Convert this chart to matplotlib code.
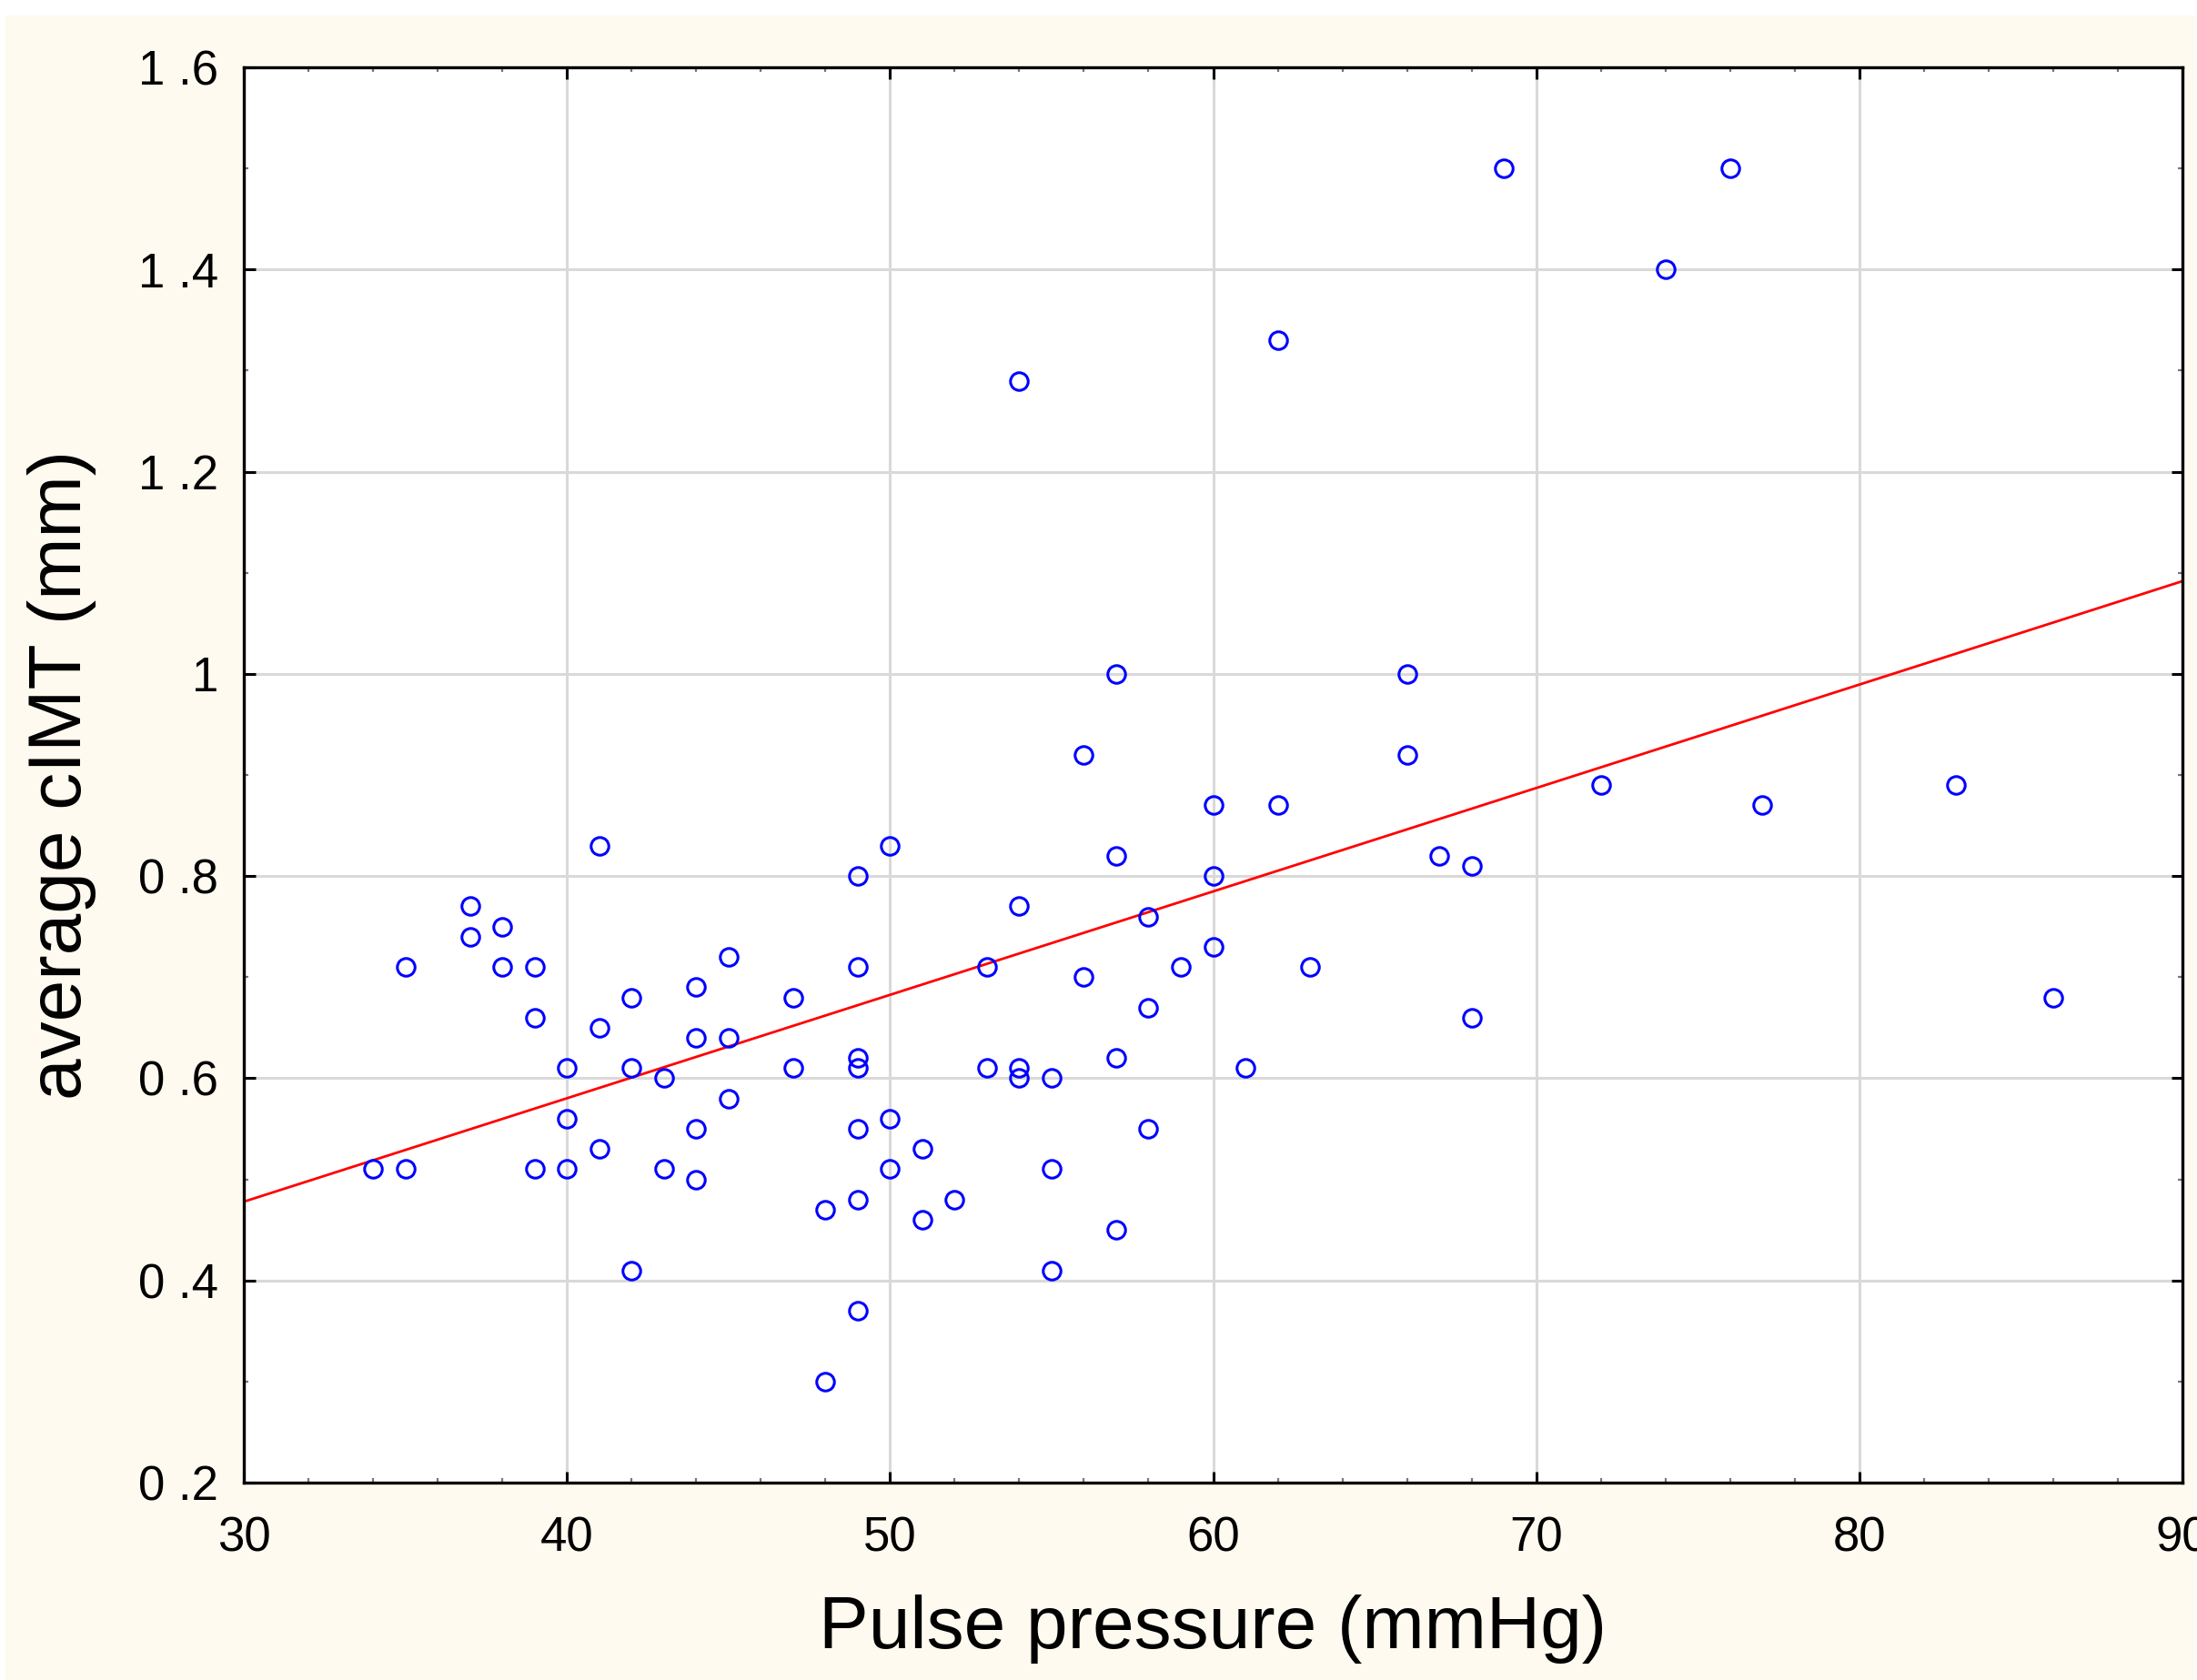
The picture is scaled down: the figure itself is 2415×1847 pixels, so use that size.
"""
Scatter of average cIMT against pulse pressure with a least-squares line.
"""

import matplotlib
matplotlib.use("Agg")
import matplotlib.pyplot as plt
import numpy as np
from matplotlib.patches import Rectangle
from matplotlib.ticker import FixedLocator, MultipleLocator

# Pulse pressure (mmHg), one entry per subject
pulse_pressure = [
    34, 35, 35, 37, 37, 38, 38, 39, 39, 39, 40, 40, 40, 41, 41, 41,
    42, 42, 42, 43, 43, 44, 44, 44, 44, 45, 45, 45, 47, 47, 48, 48,
    49, 49, 49, 49, 49, 49, 49, 50, 50, 50, 51, 51, 52, 53, 53,
    54, 54, 54, 54, 55, 55, 55, 56, 56, 57, 57, 57, 57, 58, 58, 58,
    59, 60, 60, 60, 61, 62, 62, 63, 66, 66, 67, 68, 68, 69, 72, 74,
    76, 77, 83, 86,
]

# Average carotid IMT (mm), same order as pulse_pressure
cimt = [
    0.51, 0.51, 0.71, 0.77, 0.74, 0.75, 0.71, 0.71, 0.66, 0.51, 0.61, 0.56, 0.51, 0.83, 0.65, 0.53,
    0.68, 0.61, 0.41, 0.60, 0.51, 0.69, 0.64, 0.55, 0.50, 0.72, 0.64, 0.58, 0.68, 0.61, 0.47, 0.30,
    0.80, 0.71, 0.62, 0.61, 0.55, 0.48, 0.37, 0.83, 0.56, 0.51, 0.53, 0.46, 0.48, 0.71, 0.61,
    1.29, 0.77, 0.61, 0.60, 0.60, 0.51, 0.41, 0.92, 0.70, 1.00, 0.82, 0.62, 0.45, 0.76, 0.67, 0.55,
    0.71, 0.87, 0.80, 0.73, 0.61, 1.33, 0.87, 0.71, 1.00, 0.92, 0.82, 0.81, 0.66, 1.50, 0.89, 1.40,
    1.50, 0.87, 0.89, 0.68,
]

# regression line as printed (intercept, slope)
fit_intercept = 0.171
fit_slope = 0.01023

x_ticks = [30, 40, 50, 60, 70, 80, 90]
y_ticks = [0.2, 0.4, 0.6, 0.8, 1.0, 1.2, 1.4, 1.6]
y_tick_labels = ["0 .2", "0 .4", "0 .6", "0 .8", "1", "1 .2", "1 .4", "1 .6"]

W, H = 2415, 1847
DPI = 100
FONT = "Liberation Sans"
CREAM = "#fffaf0"

fig = plt.figure(figsize=(W / DPI, H / DPI), dpi=DPI, facecolor="white")
fig.patches.append(
    Rectangle((6 / W, 0), (2413 - 6) / W, (H - 17) / H,
              transform=fig.transFigure, facecolor=CREAM, edgecolor="none", zorder=-10)
)

ax = fig.add_axes([268 / W, 1 - 1630 / H, (2399 - 268) / W, (1630 - 74) / H])
ax.set_facecolor("white")

x = np.array(pulse_pressure, dtype=float)
y = np.array(cimt, dtype=float)

ax.plot(x, y, linestyle="none", marker="o", markersize=14,
        markerfacecolor="none", markeredgecolor="#0000ff", markeredgewidth=2.2, zorder=3)

ax.set_xlim(30, 90)
ax.set_ylim(0.2, 1.6)

# fit line spans the full x range
xl = np.array(ax.get_xlim())
ax.plot(xl, fit_intercept + fit_slope * xl, color="#ff0000", linewidth=2.0, zorder=2)

ax.xaxis.set_major_locator(FixedLocator(x_ticks))
ax.xaxis.set_minor_locator(MultipleLocator(2))
ax.yaxis.set_major_locator(FixedLocator(y_ticks))
ax.yaxis.set_minor_locator(MultipleLocator(0.1))
ax.set_xticklabels([str(t) for t in x_ticks], fontfamily=FONT, fontsize=38)
ax.set_yticklabels(y_tick_labels, fontfamily=FONT, fontsize=38)

ax.tick_params(which="major", direction="in", length=9, width=2.2, color="black",
               top=True, right=True, pad=20)
ax.tick_params(axis="x", which="major", pad=26)
ax.tick_params(which="minor", direction="in", length=3.5, width=1.6, color="#777777",
               top=True, right=True)

ax.grid(True, which="major", color="#d9d9d9", linewidth=2.2, zorder=0)
ax.set_axisbelow(True)

for sp in ax.spines.values():
    sp.set_linewidth(2.4)
    sp.set_color("black")

fig.text(1333.5 / W, 1 - 1791 / H, "Pulse pressure (mmHg)",
         ha="center", va="center", fontsize=59, fontfamily=FONT)
fig.text(68 / W, 1 - 852 / H, "average cIMT (mm)", rotation=90,
         ha="center", va="center", fontsize=59, fontfamily=FONT)

fig.savefig("out.png", dpi=DPI, facecolor=fig.get_facecolor())
plt.close(fig)
